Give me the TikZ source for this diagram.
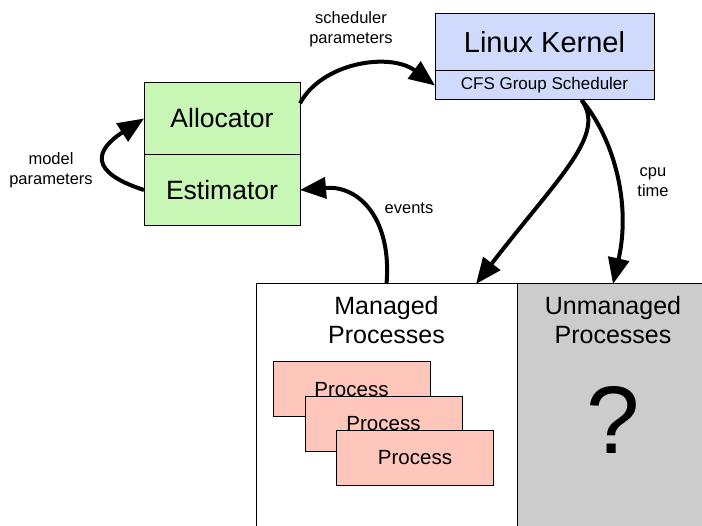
\documentclass[tikz,border=0pt]{standalone}
\usepackage{fontspec}
\setmainfont{Liberation Sans}
\usetikzlibrary{arrows.meta, positioning, calc}
\definecolor{ctrlGreen}{RGB}{199, 246, 181}
\definecolor{kernelBlue}{RGB}{207, 218, 252}
\definecolor{procPink}{RGB}{255, 198, 188}
\definecolor{otherGray}{RGB}{204, 204, 204}

\begin{document}
\begin{tikzpicture}[
    x=1pt, y=-1pt,
    % Base style for boxes
    block/.style={
        draw,
        line width=1pt,
        inner sep=0pt,
        outer sep=0pt,
        align=center
    },
    % Controller boxes (Allocator / Estimator)
    ctrl/.style={
        block,
        fill=ctrlGreen,
        minimum width=156pt,
        minimum height=71.5pt,
        font=\fontsize{26.5}{30}\selectfont
    },
    % Kernel boxes
    kernel/.style={
        block,
        fill=kernelBlue,
        minimum width=219pt
    },
    % Process cards
    proc/.style={
        block,
        fill=procPink,
        minimum width=157pt,
        minimum height=55pt,
        font=\fontsize{20.5}{24}\selectfont
    },
    % Process groups
    group/.style={
        block,
        minimum width=261pt,
        minimum height=260pt,
        anchor=north west
    },
    title/.style={
        inner sep=0pt,
        align=center,
        font=\fontsize{25}{29}\selectfont
    },
    note/.style={
        inner sep=0pt,
        align=center,
        font=\fontsize{16.5}{20}\selectfont
    },
    % Style for arrows
    arrow/.style={
        -{Triangle[length=26pt, width=21pt]},
        line width=4pt
    }
]

    \useasboundingbox (0,0) rectangle (702,526);
    \clip (0,0) rectangle (702,526);

    % --- 1. Controller ---
    \node[ctrl] (alloc) at (222,118.5) {Allocator};
    \node[ctrl, below=0pt of alloc] (estim) {Estimator};

    % --- 2. Kernel ---
    \node[kernel, minimum height=57pt, font=\fontsize{29}{33}\selectfont] (kernel) at (544.5,42.5) {Linux Kernel};
    \node[kernel, minimum height=29pt, font=\fontsize{17}{20}\selectfont, below=0pt of kernel] (cfs) {CFS Group Scheduler};

    % --- 3. Process groups ---
    \node[group] (managed) at (256,284) {};
    \node[group, fill=otherGray, minimum width=192pt, right=0pt of managed] (unmanaged) {};

    \node[title, below=12pt of managed.north] (mgdtitle) {Managed\\Processes};
    \node[title, below=12pt of unmanaged.north] (unmtitle) {Unmanaged\\Processes};
    \node[inner sep=0pt, font=\fontsize{96}{100}\selectfont] (unknown) at ($(unmanaged.north)+(0,136)$) {?};

    % Stack of managed processes
    \node[proc] (proc1) at (351.5,389.5) {Process};
    \node[proc] (proc2) at ($(proc1)+(32,34.5)$) {Process};
    \node[proc] (proc3) at ($(proc2)+(31.5,34)$) {Process};

    % --- 4. Connectors ---
    \coordinate (cfsout) at ($(cfs.south)+(37,0)$);
    \coordinate (mgdin) at ($(managed.north east)+(-41,0)$);

    \draw[arrow] (estim.west) .. controls +(-56,-18) and +(-49,31.5) .. (alloc.west);
    \draw[arrow] (alloc.11) .. controls +(22,-41) and +(-45,-33.5) .. (cfs.west);
    \draw[arrow] (managed.north) .. controls +(5.5,-64) and +(60,-5) .. (estim.east);
    \draw[arrow] (cfsout) .. controls +(25,35) and +(84,-109) .. (mgdin);
    \draw[arrow] (cfsout) .. controls +(30,35) and +(19,-84) .. (unmanaged.north);

    % --- 5. Labels ---
    \node[note] (schedlbl) at (351,29.5) {scheduler\\parameters};
    \node[note] (modellbl) at (51,170.5) {model\\parameters};
    \node[note] (eventslbl) at (409,208) {events};
    \node[note] (cpulbl) at (653,182) {cpu\\time};

\end{tikzpicture}
\end{document}
